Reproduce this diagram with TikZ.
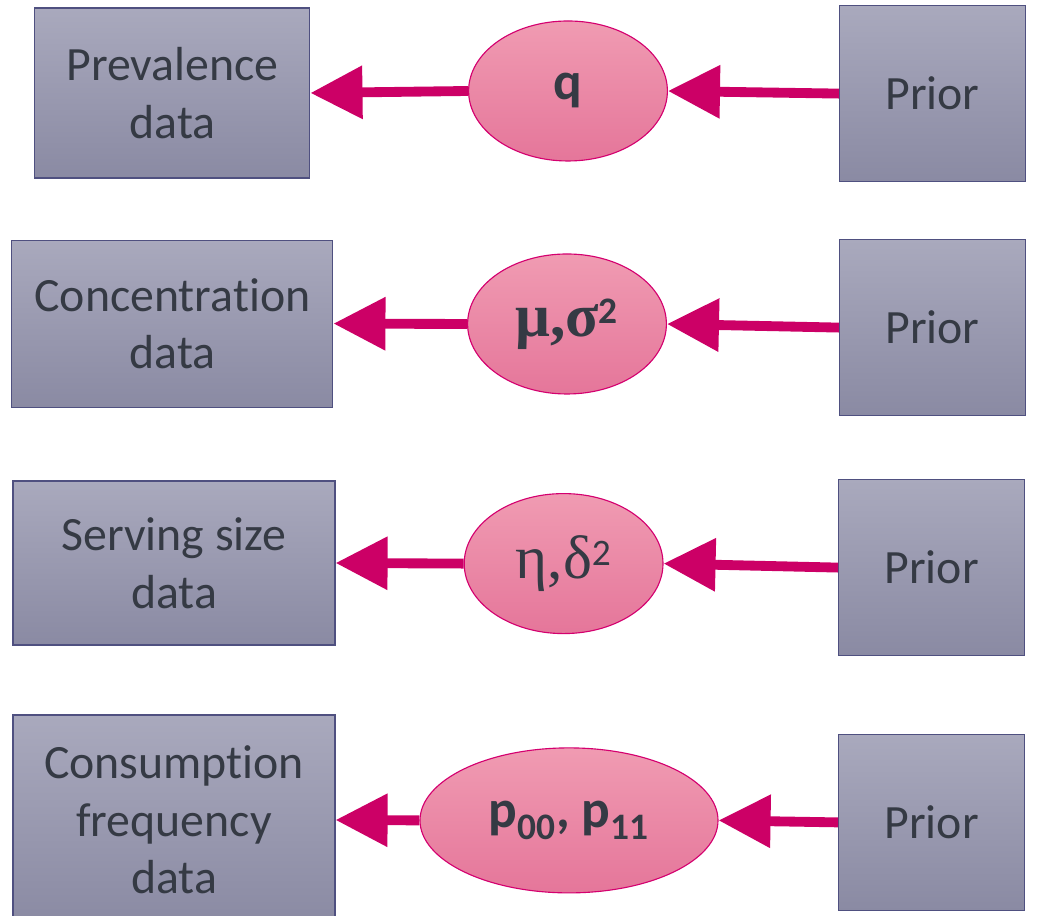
\documentclass[tikz,border=0pt]{standalone}
\usepackage{fontspec}
\setmainfont{Carlito}[Ligatures={CommonOff,ContextualOff}]
\newfontfamily\greekfont{Liberation Serif}[Scale=1.15]
\usepackage{xcolor}
\definecolor{boxtop}{HTML}{A9A9BD}
\definecolor{boxbottom}{HTML}{8A8AA3}
\definecolor{boxborder}{HTML}{4F5080}
\definecolor{elltop}{HTML}{F09BB2}
\definecolor{ellbottom}{HTML}{E5769A}
\definecolor{ellborder}{HTML}{D4006F}
\definecolor{arrowmag}{HTML}{CC0066}
\definecolor{txtdark}{HTML}{353A44}
\usetikzlibrary{shapes.geometric,arrows.meta,positioning}

\begin{document}
\begin{tikzpicture}[
  databox/.style={draw=boxborder, line width=0.8pt, top color=boxtop,
                  bottom color=boxbottom, align=center, text=txtdark,
                  inner sep=0pt, font=\fontsize{34}{41}\selectfont},
  priorbox/.style={databox, minimum width=4.65cm, minimum height=4.4cm},
  param/.style={ellipse, draw=ellborder, line width=0.8pt, top color=elltop,
                bottom color=ellbottom, text=txtdark, inner sep=0pt,
                minimum width=4.97cm, minimum height=3.5cm,
                font=\fontsize{38}{44}\selectfont\bfseries},
  link/.style={draw=arrowmag, line width=7pt,
               -{Triangle[length=1.3cm,width=1.275cm]}}
]
\useasboundingbox (0,0) rectangle (25.95,22.9);

%% data boxes
\node[databox, minimum width=6.875cm, minimum height=4.25cm] (prev) at (4.31,20.575)
  {Prevalence\\data};
\node[databox, minimum width=8.025cm, minimum height=4.175cm] (conc) at (4.31,14.81)
  {Concentration\\data};
\node[databox, minimum width=8.05cm, minimum height=4.1cm] (serv) at (4.35,8.825)
  {Serving size\\data};
\node[databox, minimum width=8.05cm, minimum height=5.25cm] (cons) at (4.35,2.4)
  {Consumption\\frequency\\data};

%% parameters
\node[param] (q)   at (14.2,20.625) {q};
\node[param] (mu)  at (14.175,14.8) {{\greekfont μ,σ}\textsuperscript{2}};
\node[param] (eta) at (14.09,8.81)
  {\mdseries{\greekfont η,δ}\textsuperscript{2}};
\node[param, minimum width=7.45cm, minimum height=3.625cm] (pp) at (14.225,2.39)
  {p\textsubscript{00}, p\textsubscript{11}};

%% priors
\node[priorbox] (pr1) at (23.31,20.56) {Prior};
\node[priorbox] (pr2) at (23.31,14.71) {Prior};
\node[priorbox] (pr3) at (23.29,8.71)  {Prior};
\node[priorbox] (pr4) at (23.29,2.34)  {Prior};

\draw[link] (q.west)   -- (prev.east);
\draw[link] (mu.west)  -- (conc.east);
\draw[link] (eta.west) -- (serv.east);
\draw[link] (pp.west)  -- (cons.east);

\foreach \p/\e in {pr1/q,pr2/mu,pr3/eta,pr4/pp}
  \draw[link] (\p.west) -- (\e.east);

\end{tikzpicture}
\end{document}
